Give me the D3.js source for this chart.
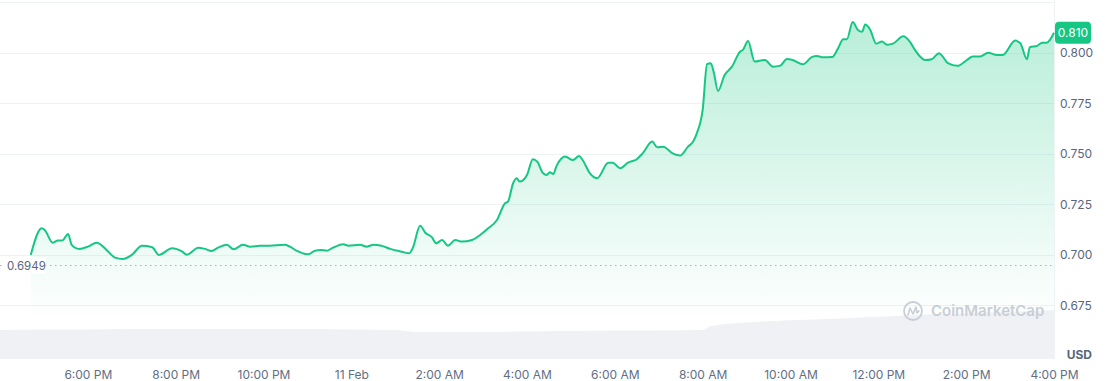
<!DOCTYPE html>
<html>
<head>
<meta charset="utf-8">
<script src="https://cdn.jsdelivr.net/npm/d3@7"></script>
<style>
    body { margin: 0; background: #fff; }
    #chart { width: 1107px; height: 381px; }
    text { font-family: Inter, "Noto Sans", sans-serif; }
</style>
</head>
<body>
<div id="chart"></div>
<script>

// price readings (Feb 10 -> Feb 11)
const priceTimes = [
    "02-10 16:42", "02-10 16:57", "02-10 17:01", "02-10 17:12", "02-10 17:19", "02-10 17:25", "02-10 17:33", "02-10 17:38",
    "02-10 17:48", "02-10 18:00", "02-10 18:12", "02-10 18:28", "02-10 18:37", "02-10 18:48", "02-10 19:00", "02-10 19:14",
    "02-10 19:28", "02-10 19:37", "02-10 19:55", "02-10 20:09", "02-10 20:15", "02-10 20:31", "02-10 20:40", "02-10 20:49",
    "02-10 20:58", "02-10 21:10", "02-10 21:19", "02-10 21:32", "02-10 21:42", "02-10 21:55", "02-10 22:09", "02-10 22:29",
    "02-10 22:36", "02-10 22:45", "02-10 22:54", "02-10 23:01", "02-10 23:10", "02-10 23:19", "02-10 23:26", "02-10 23:35",
    "02-10 23:49", "02-10 23:56", "02-11 00:12", "02-11 00:21", "02-11 00:30", "02-11 00:41", "02-11 00:53", "02-11 01:09",
    "02-11 01:19", "02-11 01:24", "02-11 01:34", "02-11 01:41", "02-11 01:50", "02-11 01:56", "02-11 02:04", "02-11 02:12",
    "02-11 02:22", "02-11 02:31", "02-11 02:45", "02-11 02:56", "02-11 03:07", "02-11 03:19", "02-11 03:30", "02-11 03:34",
    "02-11 03:41", "02-11 03:46", "02-11 03:50", "02-11 04:00", "02-11 04:08", "02-11 04:14", "02-11 04:22", "02-11 04:27",
    "02-11 04:31", "02-11 04:36", "02-11 04:40", "02-11 04:52", "02-11 05:03", "02-11 05:11", "02-11 05:16", "02-11 05:26",
    "02-11 05:36", "02-11 05:51", "02-11 05:57", "02-11 06:07", "02-11 06:18", "02-11 06:30", "02-11 06:38", "02-11 06:51",
    "02-11 06:58", "02-11 07:06", "02-11 07:19", "02-11 07:29", "02-11 07:40", "02-11 07:47", "02-11 07:52", "02-11 08:00",
    "02-11 08:06", "02-11 08:11", "02-11 08:15", "02-11 08:21", "02-11 08:30", "02-11 08:40", "02-11 08:51", "02-11 08:55",
    "02-11 09:02", "02-11 09:11", "02-11 09:25", "02-11 09:36", "02-11 09:46", "02-11 09:55", "02-11 10:03", "02-11 10:17",
    "02-11 10:29", "02-11 10:36", "02-11 10:43", "02-11 10:57", "02-11 11:05", "02-11 11:12", "02-11 11:17", "02-11 11:25",
    "02-11 11:32", "02-11 11:38", "02-11 11:42", "02-11 11:49", "02-11 11:57", "02-11 12:05", "02-11 12:12", "02-11 12:20",
    "02-11 12:34", "02-11 12:43", "02-11 12:50", "02-11 12:57", "02-11 13:04", "02-11 13:13", "02-11 13:23", "02-11 13:28",
    "02-11 13:35", "02-11 13:48", "02-11 14:01", "02-11 14:09", "02-11 14:19", "02-11 14:30", "02-11 14:42", "02-11 14:50",
    "02-11 15:07", "02-11 15:14", "02-11 15:23", "02-11 15:27", "02-11 15:37", "02-11 15:44", "02-11 15:50", "02-11 16:00"
];
const prices = [
    0.7000, 0.7132, 0.7124, 0.7061, 0.7071, 0.7071, 0.7104, 0.7050,
    0.7030, 0.7041, 0.7061, 0.7016, 0.6987, 0.6980, 0.7000, 0.7045,
    0.7038, 0.7000, 0.7033, 0.7016, 0.7001, 0.7036, 0.7030, 0.7020,
    0.7036, 0.7050, 0.7028, 0.7050, 0.7041, 0.7045, 0.7046, 0.7050,
    0.7041, 0.7021, 0.7008, 0.7003, 0.7020, 0.7025, 0.7021, 0.7036,
    0.7053, 0.7046, 0.7050, 0.7041, 0.7050, 0.7046, 0.7030, 0.7016,
    0.7008, 0.7035, 0.7144, 0.7110, 0.7088, 0.7058, 0.7074, 0.7046,
    0.7074, 0.7066, 0.7074, 0.7099, 0.7132, 0.7173, 0.7256, 0.7264,
    0.7355, 0.7380, 0.7363, 0.7396, 0.7474, 0.7462, 0.7404, 0.7396,
    0.7409, 0.7401, 0.7437, 0.7487, 0.7470, 0.7490, 0.7470, 0.7404,
    0.7380, 0.7457, 0.7457, 0.7429, 0.7457, 0.7474, 0.7503, 0.7561,
    0.7533, 0.7536, 0.7503, 0.7492, 0.7536, 0.7561, 0.7602, 0.7718,
    0.7944, 0.7949, 0.7907, 0.7812, 0.7891, 0.7932, 0.8006, 0.8015,
    0.8059, 0.7957, 0.7965, 0.7932, 0.7937, 0.7970, 0.7965, 0.7944,
    0.7979, 0.7985, 0.7979, 0.7980, 0.8023, 0.8068, 0.8068, 0.8153,
    0.8114, 0.8105, 0.8141, 0.8114, 0.8046, 0.8056, 0.8041, 0.8046,
    0.8082, 0.8056, 0.8015, 0.7982, 0.7965, 0.7969, 0.7999, 0.7982,
    0.7949, 0.7936, 0.7965, 0.7982, 0.7982, 0.8001, 0.7990, 0.7990,
    0.8061, 0.8048, 0.7969, 0.8028, 0.8035, 0.8051, 0.8051, 0.8100
];

// volume band at the bottom (millions, rough)
const volumeTimes = [
    "02-10 16:00", "02-10 17:00", "02-10 18:00", "02-10 19:00", "02-10 20:00", "02-10 21:00", "02-10 22:00",
    "02-10 23:00", "02-11 00:00", "02-11 01:00", "02-11 01:30", "02-11 02:00", "02-11 03:00", "02-11 04:00",
    "02-11 05:00", "02-11 06:00", "02-11 07:00", "02-11 08:00", "02-11 08:10", "02-11 09:00", "02-11 10:00",
    "02-11 11:00", "02-11 12:00", "02-11 13:00", "02-11 14:00", "02-11 15:00", "02-11 16:00"
];
const volumes = [
    29.5, 30, 30, 30.5, 30.5, 30.5, 30.5,
    30.5, 30, 29.5, 27.5, 27.5, 27.5, 28,
    28.5, 29, 29, 29.5, 33, 37, 39.5,
    41, 43, 45, 46.5, 48, 49.5
];

const yTicks = [0.675, 0.700, 0.725, 0.750, 0.775, 0.800];
const gridTicks = [0.675, 0.700, 0.725, 0.750, 0.775, 0.800, 0.825];
const openPrice = 0.6949;
const lastPrice = 0.810;
const timeRange = ["02-10 16:00", "02-11 16:00"];

const parseTime = d3.timeParse("%m-%d %H:%M");

let data = priceTimes.map(function (t, i) {
    return { date: parseTime(t), value: prices[i] };
});
let volData = volumeTimes.map(function (t, i) {
    return { date: parseTime(t), value: volumes[i] };
});

/*
SVG
*/
var width = 1107;
var height = 381;
var plotRight = 1054;
var plotBottom = 359;

var svg = d3.select("#chart")
    .append("svg")
    .attr("width", width)
    .attr("height", height);

/*
SCALES
*/
var xScale = d3.scaleTime()
    .domain(timeRange.map(parseTime))
    .range([0, plotRight]);

var yScale = d3.scaleLinear()
    .domain([0.6485, 0.8262])
    .range([plotBottom, 0]);

var volScale = d3.scaleLinear()
    .domain([0, 60])
    .range([plotBottom, 300]);

// gradient under the line, fades out before the volume band
var defs = svg.append("defs");
var grad = defs.append("linearGradient")
    .attr("id", "priceFill")
    .attr("gradientUnits", "userSpaceOnUse")
    .attr("x1", 0).attr("x2", 0)
    .attr("y1", yScale(d3.max(prices)))
    .attr("y2", 320);
grad.append("stop").attr("offset", "0%").attr("stop-color", "#16c784").attr("stop-opacity", 0.3);
grad.append("stop").attr("offset", "100%").attr("stop-color", "#16c784").attr("stop-opacity", 0);

/*
GRIDLINES
*/
svg.append("g")
    .selectAll("line")
    .data(gridTicks)
    .join("line")
    .attr("x1", 0)
    .attr("x2", plotRight)
    .attr("y1", d => Math.round(yScale(d)) + 0.5)
    .attr("y2", d => Math.round(yScale(d)) + 0.5)
    .attr("stroke", "#eff2f5")
    .attr("stroke-width", 1);

svg.append("line")
    .attr("x1", plotRight + 0.5).attr("x2", plotRight + 0.5)
    .attr("y1", 0).attr("y2", plotBottom)
    .attr("stroke", "#eff2f5");

/*
PRICE AREA + LINE
*/
var area = d3.area()
    .x(d => xScale(d.date))
    .y0(plotBottom)
    .y1(d => yScale(d.value))
    .curve(d3.curveMonotoneX);

var line = d3.line()
    .x(d => xScale(d.date))
    .y(d => yScale(d.value))
    .curve(d3.curveMonotoneX);

svg.append("path")
    .datum(data)
    .attr("d", area)
    .attr("fill", "url(#priceFill)");

/*
VOLUME
*/
var volArea = d3.area()
    .x(d => xScale(d.date))
    .y0(plotBottom)
    .y1(d => volScale(d.value))
    .curve(d3.curveMonotoneX);

svg.append("path")
    .datum(volData)
    .attr("d", volArea)
    .attr("fill", "#eff1f4");

// watermark
var wm = svg.append("g").attr("transform", "translate(913,311)");
wm.append("circle")
    .attr("r", 9)
    .attr("fill", "none")
    .attr("stroke", "#c9ced6")
    .attr("stroke-width", 1.8);
wm.append("path")
    .attr("d", "M-5,4 L-3,-3 L0,3 L3,-4 L4,2 L6,0")
    .attr("fill", "none")
    .attr("stroke", "#c9ced6")
    .attr("stroke-width", 1.6)
    .attr("stroke-linejoin", "round")
    .attr("stroke-linecap", "round");
svg.append("text")
    .attr("x", 931)
    .attr("y", 316)
    .attr("font-size", 15)
    .attr("font-weight", 600)
    .attr("fill", "#c9ced6")
    .text("CoinMarketCap");

svg.append("path")
    .datum(data)
    .attr("d", line)
    .attr("fill", "none")
    .attr("stroke", "#16c784")
    .attr("stroke-width", 2)
    .attr("stroke-linejoin", "round");

/*
OPEN PRICE REFERENCE
*/
var openY = Math.round(yScale(openPrice)) + 0.5;
svg.append("line")
    .attr("x1", 0).attr("x2", plotRight)
    .attr("y1", openY).attr("y2", openY)
    .attr("stroke", "#a6b0c3")
    .attr("stroke-width", 1)
    .attr("stroke-dasharray", "1.5,3.5");

svg.append("rect")
    .attr("x", 5).attr("y", openY - 8)
    .attr("width", 41).attr("height", 16)
    .attr("fill", "#fff");

svg.append("text")
    .attr("x", 7)
    .attr("y", openY)
    .attr("dy", "0.35em")
    .attr("font-size", 11.5)
    .attr("fill", "#58667e")
    .text(openPrice.toFixed(4));

/*
AXES
*/
const yAxis = svg.append("g")
    .attr("transform", `translate(${plotRight + 6},0)`)
    .call(d3.axisRight(yScale).tickValues(yTicks).tickSize(0).tickFormat(d3.format(".3f")));
yAxis.select(".domain").remove();
yAxis.selectAll("text")
    .attr("x", 0)
    .attr("font-family", "Inter, sans-serif")
    .attr("font-size", 12)
    .attr("fill", "#58667e");

svg.append("text")
    .attr("x", 1092)
    .attr("y", 355)
    .attr("dy", "0.35em")
    .attr("text-anchor", "end")
    .attr("font-size", 12)
    .attr("font-weight", 700)
    .attr("fill", "#58667e")
    .text("USD");

var fmtHour = d3.timeFormat("%-I:%M %p");
var fmtDay = d3.timeFormat("%-d %b");

const xAxis = svg.append("g")
    .attr("transform", `translate(0,${plotBottom + 8})`)
    .call(d3.axisBottom(xScale)
        .ticks(d3.timeHour.every(2))
        .tickSize(0)
        .tickFormat(function (d) {
            return d.getHours() === 0 ? fmtDay(d) : fmtHour(d);
        }));
xAxis.select(".domain").remove();
xAxis.selectAll(".tick")
    .filter(d => +d === +xScale.domain()[0])
    .remove();
xAxis.selectAll("text")
    .attr("y", 8)
    .attr("dy", "0.35em")
    .attr("font-family", "Inter, sans-serif")
    .attr("font-size", 12)
    .attr("fill", "#616e85");

/*
LAST PRICE TAG
*/
var lastY = yScale(lastPrice);
svg.append("rect")
    .attr("x", plotRight + 1)
    .attr("y", lastY - 11)
    .attr("width", 36)
    .attr("height", 22)
    .attr("rx", 4)
    .attr("fill", "#16c784");

svg.append("text")
    .attr("x", plotRight + 19)
    .attr("y", lastY)
    .attr("dy", "0.35em")
    .attr("text-anchor", "middle")
    .attr("font-size", 12)
    .attr("fill", "#fff")
    .text(lastPrice.toFixed(3));

</script>
</body>
</html>
